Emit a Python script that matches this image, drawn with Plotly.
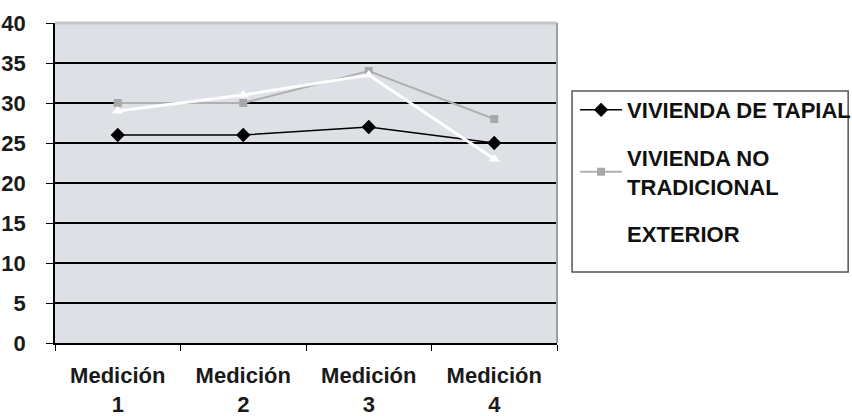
import plotly.graph_objects as go

categories = ["Medición<br>1", "Medición<br>2", "Medición<br>3", "Medición<br>4"]
tapial = [26, 26, 27, 25]
no_tradicional = [30, 30, 34, 28]
exterior = [29, 31, 33.5, 23]
y_ticks = [0, 5, 10, 15, 20, 25, 30, 35, 40]

FONT = "Liberation Sans, Arial, sans-serif"

fig = go.Figure()
fig.add_trace(go.Scatter(
    x=categories, y=tapial, name="VIVIENDA DE TAPIAL",
    mode="lines+markers", legendgroup="a",
    line=dict(color="#000000", width=1.6),
    marker=dict(symbol="diamond", size=11, color="#000000"),
))
fig.add_trace(go.Scatter(
    x=categories, y=no_tradicional, name="VIVIENDA NO<br>TRADICIONAL",
    mode="lines+markers", legendgroup="b",
    line=dict(color="#b0b0b0", width=2),
    marker=dict(symbol="square", size=8, color="#a8a8a8"),
))
fig.add_trace(go.Scatter(
    x=categories, y=exterior, name="EXTERIOR",
    mode="lines+markers", legendgroup="c",
    line=dict(color="#ffffff", width=3),
    marker=dict(symbol="triangle-up", size=10, color="#ffffff"),
))

fig.update_layout(
    width=852, height=416,
    margin=dict(l=55, r=295, t=23, b=73, autoexpand=False),
    paper_bgcolor="#ffffff",
    plot_bgcolor="#dde0e4",
    font=dict(family=FONT, color="#1a1a1a", size=22, weight="bold"),
    showlegend=True,
    legend=dict(
        xref="container", yref="container",
        x=0.675, y=0.786, xanchor="left", yanchor="top",
        bgcolor="rgba(0,0,0,0)", borderwidth=0, itemwidth=42,
        font=dict(family=FONT, size=22, color="#111111", weight="bold"),
        traceorder="grouped", tracegroupgap=16,
    ),
    shapes=[
        dict(type="line", xref="paper", yref="paper", x0=0, x1=1, y0=1, y1=1,
             line=dict(color="#c4c6c9", width=3), layer="above"),
        dict(type="line", xref="paper", yref="paper", x0=1, x1=1, y0=0, y1=1,
             line=dict(color="#a0a0a0", width=2), layer="above"),
        dict(type="rect", xref="paper", yref="paper", x0=1.030, x1=1.580,
             y0=0.222, y1=0.7875, line=dict(color="#555555", width=1.5)),
    ],
)

fig.update_xaxes(
    type="category", range=[-0.5, 3.5], tickson="boundaries", ticks="outside",
    ticklen=6, tickcolor="#000000", showgrid=False, showline=True,
    linecolor="#000000", linewidth=1.5,
    tickfont=dict(family=FONT, size=22, color="#1a1a1a", weight="bold"),
    ticklabelstandoff=12, zeroline=False, automargin=False,
)
fig.update_yaxes(
    range=[0, 40], tickvals=y_ticks, ticks="outside", ticklen=7,
    tickcolor="#000000", showgrid=True, gridcolor="#000000", gridwidth=1.5,
    showline=True, linecolor="#000000", linewidth=1.5, zeroline=False,
    tickfont=dict(family=FONT, size=22, color="#1a1a1a", weight="bold"),
    ticklabelstandoff=16, automargin=False,
)

fig.write_html("out.html", config={"displayModeBar": False},
               post_script="document.body.style.margin='0px';")
